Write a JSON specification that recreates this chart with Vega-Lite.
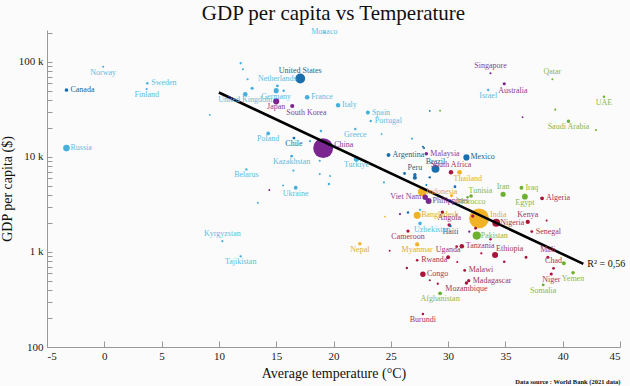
{
  "$schema": "https://vega.github.io/schema/vega-lite/v6.json",
  "width": 573,
  "height": 317,
  "autosize": "none",
  "padding": {"left": 47, "top": 30, "right": 10, "bottom": 39},
  "background": "#fbfbfb",
  "title": {"text": "GDP per capita vs Temperature", "font": "Liberation Serif", "fontSize": 21, "fontWeight": "normal", "color": "#111111", "anchor": "middle", "offset": 3},
  "config": {"view": {"stroke": null}, "font": "Liberation Serif"},
  "datasets": {
    "countries": [
      {"country": "Canada", "region": "AME", "temp": -3.3, "gdp": 50700, "pop": 38},
      {"country": "Russia", "region": "EUR", "temp": -3.3, "gdp": 12400, "pop": 145},
      {"country": "Norway", "region": "EUR", "temp": -0.1, "gdp": 89000, "pop": 5.4},
      {"country": "Sweden", "region": "EUR", "temp": 3.75, "gdp": 59700, "pop": 10.4},
      {"country": "Finland", "region": "EUR", "temp": 3.7, "gdp": 52000, "pop": 5.5},
      {"country": "Monaco", "region": "EUR", "temp": 19.2, "gdp": 205000, "pop": 0.04},
      {"country": "United States", "region": "AME", "temp": 17.1, "gdp": 67000, "pop": 332},
      {"country": "Netherlands", "region": "EUR", "temp": 15.1, "gdp": 56000, "pop": 17.5},
      {"country": "Germany", "region": "EUR", "temp": 15.0, "gdp": 49900, "pop": 83},
      {"country": "United Kingdom", "region": "EUR", "temp": 12.3, "gdp": 45700, "pop": 67},
      {"country": "Japan", "region": "EAP", "temp": 15.0, "gdp": 38500, "pop": 125},
      {"country": "South Korea", "region": "EAP", "temp": 16.4, "gdp": 34400, "pop": 52},
      {"country": "France", "region": "EUR", "temp": 17.7, "gdp": 42500, "pop": 68},
      {"country": "Italy", "region": "EUR", "temp": 20.4, "gdp": 35000, "pop": 59},
      {"country": "Spain", "region": "EUR", "temp": 23.0, "gdp": 29300, "pop": 47},
      {"country": "Portugal", "region": "EUR", "temp": 23.25, "gdp": 23900, "pop": 10},
      {"country": "Greece", "region": "EUR", "temp": 21.9, "gdp": 19700, "pop": 10.7},
      {"country": "Poland", "region": "EUR", "temp": 14.3, "gdp": 17700, "pop": 38},
      {"country": "Chile", "region": "AME", "temp": 16.55, "gdp": 15800, "pop": 19},
      {"country": "China", "region": "EAP", "temp": 19.1, "gdp": 12400, "pop": 1412},
      {"country": "Turkiye", "region": "EUR", "temp": 22.0, "gdp": 9500, "pop": 85},
      {"country": "Kazakhstan", "region": "EUR", "temp": 16.35, "gdp": 10200, "pop": 19},
      {"country": "Belarus", "region": "EUR", "temp": 12.4, "gdp": 7400, "pop": 9.3},
      {"country": "Ukraine", "region": "EUR", "temp": 16.7, "gdp": 4750, "pop": 43},
      {"country": "Kyrgyzstan", "region": "EUR", "temp": 10.3, "gdp": 1300, "pop": 6.7},
      {"country": "Tajikistan", "region": "EUR", "temp": 11.9, "gdp": 900, "pop": 9.8},
      {"country": "Argentina", "region": "AME", "temp": 24.8, "gdp": 10500, "pop": 45},
      {"country": "Malaysia", "region": "EAP", "temp": 28.1, "gdp": 10800, "pop": 33},
      {"country": "Mexico", "region": "AME", "temp": 31.6, "gdp": 9900, "pop": 127},
      {"country": "Brazil", "region": "AME", "temp": 28.9, "gdp": 7500, "pop": 214},
      {"country": "South Africa", "region": "SSA", "temp": 30.25, "gdp": 6900, "pop": 60},
      {"country": "Peru", "region": "AME", "temp": 27.1, "gdp": 6500, "pop": 33},
      {"country": "Thailand", "region": "SAS", "temp": 31.0, "gdp": 6900, "pop": 70},
      {"country": "Indonesia", "region": "SAS", "temp": 27.75, "gdp": 4300, "pop": 274},
      {"country": "Viet Nam", "region": "EAP", "temp": 28.0, "gdp": 3770, "pop": 98},
      {"country": "Philippines", "region": "EAP", "temp": 28.3, "gdp": 3440, "pop": 113},
      {"country": "Tunisia", "region": "MEN", "temp": 31.7, "gdp": 3770, "pop": 12},
      {"country": "Morocco", "region": "MEN", "temp": 32.0, "gdp": 3880, "pop": 37},
      {"country": "Bangladesh", "region": "SAS", "temp": 27.3, "gdp": 2430, "pop": 169},
      {"country": "Angola", "region": "SSA", "temp": 30.1, "gdp": 1920, "pop": 34},
      {"country": "Uzbekistan", "region": "EUR", "temp": 27.55, "gdp": 2000, "pop": 35},
      {"country": "Haiti", "region": "AME", "temp": 30.2, "gdp": 1880, "pop": 11.5},
      {"country": "Cameroon", "region": "SSA", "temp": 26.5, "gdp": 1660, "pop": 27},
      {"country": "Pakistan", "region": "MEN", "temp": 32.5, "gdp": 1490, "pop": 231},
      {"country": "Nigeria", "region": "SSA", "temp": 34.2, "gdp": 2030, "pop": 213},
      {"country": "India", "region": "SAS", "temp": 32.7, "gdp": 2260, "pop": 1408},
      {"country": "Iran", "region": "MEN", "temp": 34.8, "gdp": 4050, "pop": 85},
      {"country": "Iraq", "region": "MEN", "temp": 36.4, "gdp": 4750, "pop": 43},
      {"country": "Egypt", "region": "MEN", "temp": 36.7, "gdp": 3820, "pop": 109},
      {"country": "Algeria", "region": "SSA", "temp": 38.2, "gdp": 3670, "pop": 44},
      {"country": "Kenya", "region": "SSA", "temp": 36.95, "gdp": 2070, "pop": 54},
      {"country": "Senegal", "region": "SSA", "temp": 37.3, "gdp": 1640, "pop": 17},
      {"country": "Tanzania", "region": "SSA", "temp": 31.2, "gdp": 1150, "pop": 63},
      {"country": "Uganda", "region": "SSA", "temp": 30.0, "gdp": 880, "pop": 46},
      {"country": "Rwanda", "region": "SSA", "temp": 27.3, "gdp": 818, "pop": 13},
      {"country": "Ethiopia", "region": "SSA", "temp": 34.1, "gdp": 929, "pop": 120},
      {"country": "Congo", "region": "SSA", "temp": 27.8, "gdp": 582, "pop": 96},
      {"country": "Malawi", "region": "SSA", "temp": 31.45, "gdp": 640, "pop": 20},
      {"country": "Madagascar", "region": "SSA", "temp": 31.8, "gdp": 499, "pop": 29},
      {"country": "Mozambique", "region": "SSA", "temp": 31.6, "gdp": 472, "pop": 32},
      {"country": "Afghanistan", "region": "MEN", "temp": 29.3, "gdp": 367, "pop": 40},
      {"country": "Burundi", "region": "SSA", "temp": 27.8, "gdp": 222, "pop": 12},
      {"country": "Nepal", "region": "SAS", "temp": 22.3, "gdp": 1220, "pop": 30},
      {"country": "Myanmar", "region": "SAS", "temp": 27.3, "gdp": 1200, "pop": 54},
      {"country": "Mali", "region": "SSA", "temp": 38.7, "gdp": 880, "pop": 22},
      {"country": "Chad", "region": "SSA", "temp": 39.2, "gdp": 673, "pop": 17},
      {"country": "Niger", "region": "SSA", "temp": 39.0, "gdp": 587, "pop": 25},
      {"country": "Yemen", "region": "MEN", "temp": 40.9, "gdp": 605, "pop": 33},
      {"country": "Somalia", "region": "MEN", "temp": 38.3, "gdp": 450, "pop": 17},
      {"country": "Singapore", "region": "EAP", "temp": 33.7, "gdp": 76000, "pop": 5.5},
      {"country": "Australia", "region": "EAP", "temp": 34.9, "gdp": 59000, "pop": 26},
      {"country": "Israel", "region": "EUR", "temp": 33.5, "gdp": 50700, "pop": 9.4},
      {"country": "Qatar", "region": "MEN", "temp": 39.1, "gdp": 65800, "pop": 2.7},
      {"country": "UAE", "region": "MEN", "temp": 43.6, "gdp": 43000, "pop": 9.4},
      {"country": "Saudi Arabia", "region": "MEN", "temp": 40.5, "gdp": 23800, "pop": 35},
      {"country": "Switzerland", "region": "EUR", "temp": 11.9, "gdp": 96900, "pop": 8.7},
      {"country": "Ireland", "region": "EUR", "temp": 12.1, "gdp": 83800, "pop": 5},
      {"country": "Denmark", "region": "EUR", "temp": 12.5, "gdp": 65800, "pop": 5.9},
      {"country": "Austria", "region": "EUR", "temp": 12.9, "gdp": 52900, "pop": 25},
      {"country": "Belgium", "region": "EUR", "temp": 15.65, "gdp": 49900, "pop": 11.6},
      {"country": "Estonia", "region": "EUR", "temp": 9.2, "gdp": 27700, "pop": 1.3},
      {"country": "Hungary", "region": "EUR", "temp": 17.95, "gdp": 14700, "pop": 9.7},
      {"country": "Czechia", "region": "EUR", "temp": 18.9, "gdp": 18800, "pop": 10.5},
      {"country": "Cyprus", "region": "EUR", "temp": 24.2, "gdp": 17500, "pop": 1.2},
      {"country": "Croatia", "region": "EUR", "temp": 26.85, "gdp": 15600, "pop": 4},
      {"country": "Panama", "region": "AME", "temp": 27.9, "gdp": 12400, "pop": 4.4},
      {"country": "Bahamas", "region": "AME", "temp": 28.4, "gdp": 30500, "pop": 0.4},
      {"country": "Bahrain", "region": "MEN", "temp": 29.3, "gdp": 30700, "pop": 1.5},
      {"country": "Mongolia", "region": "EAP", "temp": 14.4, "gdp": 4500, "pop": 3.3},
      {"country": "Armenia", "region": "EUR", "temp": 15.6, "gdp": 5000, "pop": 3},
      {"country": "Serbia", "region": "EUR", "temp": 16.5, "gdp": 7200, "pop": 6.8},
      {"country": "Bulgaria", "region": "EUR", "temp": 18.8, "gdp": 9100, "pop": 6.9},
      {"country": "Georgia", "region": "EUR", "temp": 18.8, "gdp": 6600, "pop": 3.7},
      {"country": "Albania", "region": "EUR", "temp": 19.7, "gdp": 6300, "pop": 2.8},
      {"country": "Azerbaijan", "region": "EUR", "temp": 19.6, "gdp": 5200, "pop": 10},
      {"country": "Lebanon", "region": "EUR", "temp": 24.4, "gdp": 5400, "pop": 5.6},
      {"country": "Moldova", "region": "EUR", "temp": 13.4, "gdp": 3300, "pop": 2.6},
      {"country": "Ecuador", "region": "AME", "temp": 26.2, "gdp": 6700, "pop": 18},
      {"country": "Colombia", "region": "AME", "temp": 27.1, "gdp": 6050, "pop": 51},
      {"country": "Dominican Republic", "region": "AME", "temp": 28.4, "gdp": 6100, "pop": 11},
      {"country": "Jamaica", "region": "AME", "temp": 28.1, "gdp": 5070, "pop": 2.8},
      {"country": "Guatemala", "region": "AME", "temp": 30.6, "gdp": 4860, "pop": 17},
      {"country": "Sri Lanka", "region": "SAS", "temp": 30.3, "gdp": 3920, "pop": 22},
      {"country": "Costa Rica", "region": "AME", "temp": 27.8, "gdp": 12800, "pop": 5.2},
      {"country": "Laos", "region": "EAP", "temp": 25.8, "gdp": 2510, "pop": 7.4},
      {"country": "Bolivia", "region": "AME", "temp": 26.5, "gdp": 2600, "pop": 12},
      {"country": "Turkmenistan", "region": "EUR", "temp": 27.55, "gdp": 2770, "pop": 6},
      {"country": "Ghana", "region": "SSA", "temp": 29.5, "gdp": 2620, "pop": 32},
      {"country": "Papua New Guinea", "region": "EAP", "temp": 31.85, "gdp": 1640, "pop": 9.9},
      {"country": "Bhutan", "region": "SAS", "temp": 24.5, "gdp": 2360, "pop": 0.8},
      {"country": "Cote d'Ivoire", "region": "SSA", "temp": 32.15, "gdp": 2390, "pop": 27},
      {"country": "Zambia", "region": "SSA", "temp": 32.4, "gdp": 1780, "pop": 19},
      {"country": "Benin", "region": "SSA", "temp": 33.7, "gdp": 1360, "pop": 13},
      {"country": "Zimbabwe", "region": "SSA", "temp": 30.75, "gdp": 1140, "pop": 16},
      {"country": "Togo", "region": "SSA", "temp": 32.9, "gdp": 968, "pop": 8.6},
      {"country": "Burkina Faso", "region": "SSA", "temp": 36.8, "gdp": 880, "pop": 22},
      {"country": "Guinea", "region": "SSA", "temp": 34.9, "gdp": 790, "pop": 13.5},
      {"country": "Mauritania", "region": "SSA", "temp": 38.6, "gdp": 2140, "pop": 4.6},
      {"country": "Lesotho", "region": "SSA", "temp": 24.9, "gdp": 1030, "pop": 2.3},
      {"country": "South Sudan", "region": "SSA", "temp": 26.4, "gdp": 680, "pop": 11},
      {"country": "Central African Republic", "region": "SSA", "temp": 28.4, "gdp": 504, "pop": 5},
      {"country": "Sierra Leone", "region": "SSA", "temp": 29.1, "gdp": 463, "pop": 8.4},
      {"country": "Liberia", "region": "SSA", "temp": 30.8, "gdp": 785, "pop": 5.2},
      {"country": "Sudan", "region": "MEN", "temp": 40.1, "gdp": 760, "pop": 45},
      {"country": "Kuwait", "region": "MEN", "temp": 39.35, "gdp": 31500, "pop": 4.3},
      {"country": "Oman", "region": "MEN", "temp": 42.9, "gdp": 19200, "pop": 4.5},
      {"country": "Brunei", "region": "EAP", "temp": 36.5, "gdp": 26200, "pop": 0.4}
    ],
    "fit": [
      {"temp": 10, "gdp": 47700, "label": ""},
      {"temp": 41.8, "gdp": 750, "label": "R² = 0,56"}
    ]
  },
  "layer": [
    {
      "data": {"name": "countries"},
      "mark": {"type": "circle", "opacity": 1},
      "encoding": {
        "x": {"field": "temp", "type": "quantitative", "scale": {"domain": [-5, 45], "nice": false, "zero": false},
          "axis": {"values": [-5, 0, 5, 10, 15, 20, 25, 30, 35, 40, 45], "title": "Average temperature (°C)", "grid": false,
            "domainColor": "#999999", "tickColor": "#999999", "tickSize": -6, "labelPadding": 9,
            "labelFont": "Liberation Serif", "labelFontSize": 11, "labelColor": "#222222", "labelExpr": "replace(datum.label, '\u2212', '-')",
            "titleFont": "Liberation Serif", "titleFontSize": 14, "titleFontWeight": "normal", "titleColor": "#111111", "titlePadding": 5}},
        "y": {"field": "gdp", "type": "quantitative", "title": "GDP per capita ($)", "scale": {"type": "log", "domain": [100, 217000], "nice": false},
          "axis": {"values": [100, 200, 300, 400, 500, 600, 700, 800, 900, 1000, 2000, 3000, 4000, 5000, 6000, 7000, 8000, 9000, 10000, 20000, 30000, 40000, 50000, 60000, 70000, 80000, 90000, 100000, 200000],
            "labelExpr": "datum.value == 100 ? '100' : (datum.value == 1000 ? '1 k' : (datum.value == 10000 ? '10 k' : (datum.value == 100000 ? '100 k' : '')))",
            "grid": false, "domainColor": "#999999", "tickColor": "#999999", "tickSize": -5, "labelPadding": 9,
            "labelFont": "Liberation Serif", "labelFontSize": 11, "labelColor": "#222222", "labelOverlap": false,
            "titleFont": "Liberation Serif", "titleFontSize": 14, "titleFontWeight": "normal", "titleColor": "#111111", "titlePadding": 4}},
        "size": {"field": "pop", "type": "quantitative", "scale": {"domain": [0, 1420], "range": [3, 400]}, "legend": null},
        "color": {"field": "region", "type": "nominal", "scale": {"domain": ["EUR", "AME", "EAP", "SAS", "MEN", "SSA"], "range": ["#45b0dc", "#1b6fae", "#7b2590", "#f2b226", "#6bb02e", "#a8143c"]}, "legend": null},
        "order": {"field": "pop", "type": "quantitative", "sort": "descending"}
      }
    },
    {
      "data": {"name": "fit"},
      "mark": {"type": "line", "color": "#000000", "strokeWidth": 2.6},
      "encoding": {
        "x": {"field": "temp", "type": "quantitative",
          "axis": {"orient": "bottom", "domain": false, "ticks": false, "labels": false, "grid": false, "title": "Data source : World Bank (2021 data)", "titleAnchor": "end",
            "titleFont": "Liberation Serif", "titleFontSize": 6.5, "titleFontWeight": "bold", "titleColor": "#111111", "titlePadding": 31}},
        "y": {"field": "gdp", "type": "quantitative", "title": "GDP per capita ($)", "scale": {"type": "log"}}
      }
    },
    {
      "data": {"name": "fit"},
      "transform": [{"filter": "datum.label != ''"}],
      "mark": {"type": "text", "align": "left", "baseline": "middle", "dx": 4, "fontSize": 10, "font": "Liberation Serif", "color": "#111111"},
      "encoding": {
        "x": {"field": "temp", "type": "quantitative", "axis": null},
        "y": {"field": "gdp", "type": "quantitative", "title": "GDP per capita ($)", "scale": {"type": "log"}},
        "text": {"field": "label"}
      }
    },
    {
      "data": {"name": "countries"},
      "transform": [{"filter": {"field": "country", "oneOf": ["Canada", "Russia", "Sweden", "France", "Italy", "Spain", "Portugal", "Argentina", "Malaysia", "Mexico", "Indonesia", "Philippines", "Bangladesh", "Pakistan", "Nigeria", "Iraq", "Algeria", "Senegal", "Tanzania", "Rwanda", "Congo", "Malawi", "Madagascar"]}}],
      "mark": {"type": "text", "align": "left", "baseline": "middle", "dx": 4, "fontSize": 8, "font": "Liberation Serif"},
      "encoding": {
        "x": {"field": "temp", "type": "quantitative", "axis": null},
        "y": {"field": "gdp", "type": "quantitative", "title": "GDP per capita ($)", "scale": {"type": "log"}},
        "text": {"field": "country"},
        "color": {"field": "region", "type": "nominal", "scale": {"domain": ["EUR", "AME", "EAP", "SAS", "MEN", "SSA"], "range": ["#5dbbe0", "#2a5f8c", "#8a3c99", "#e2ab3c", "#8ab74c", "#a53558"]}, "legend": null}
      }
    },
    {
      "data": {"name": "countries"},
      "transform": [{"filter": {"field": "country", "oneOf": ["Viet Nam"]}}],
      "mark": {"type": "text", "align": "right", "baseline": "middle", "dx": -4, "fontSize": 8, "font": "Liberation Serif"},
      "encoding": {
        "x": {"field": "temp", "type": "quantitative", "axis": null},
        "y": {"field": "gdp", "type": "quantitative", "title": "GDP per capita ($)", "scale": {"type": "log"}},
        "text": {"field": "country"},
        "color": {"field": "region", "type": "nominal", "scale": {"domain": ["EUR", "AME", "EAP", "SAS", "MEN", "SSA"], "range": ["#5dbbe0", "#2a5f8c", "#8a3c99", "#e2ab3c", "#8ab74c", "#a53558"]}, "legend": null}
      }
    },
    {
      "data": {"name": "countries"},
      "transform": [{"filter": {"field": "country", "oneOf": ["Norway", "Finland", "Germany", "United Kingdom", "Japan", "Greece", "Poland", "Chile", "Turkiye", "Kazakhstan", "Belarus", "Ukraine", "Tajikistan", "Morocco", "Haiti", "Cameroon", "Egypt", "Mozambique", "Afghanistan", "Burundi", "Nepal", "Myanmar", "Niger", "Yemen", "Somalia", "Israel", "UAE", "Saudi Arabia"]}}],
      "mark": {"type": "text", "align": "center", "baseline": "middle", "dy": 6, "fontSize": 8, "font": "Liberation Serif"},
      "encoding": {
        "x": {"field": "temp", "type": "quantitative", "axis": null},
        "y": {"field": "gdp", "type": "quantitative", "title": "GDP per capita ($)", "scale": {"type": "log"}},
        "text": {"field": "country"},
        "color": {"field": "region", "type": "nominal", "scale": {"domain": ["EUR", "AME", "EAP", "SAS", "MEN", "SSA"], "range": ["#5dbbe0", "#2a5f8c", "#8a3c99", "#e2ab3c", "#8ab74c", "#a53558"]}, "legend": null}
      }
    },
    {
      "data": {"name": "countries"},
      "transform": [{"filter": {"field": "country", "oneOf": ["United States", "Netherlands", "Kyrgyzstan", "Brazil", "South Africa", "Peru", "Angola", "Uganda", "Iran", "Kenya", "Mali", "Chad", "Singapore", "Qatar"]}}],
      "mark": {"type": "text", "align": "center", "baseline": "middle", "dy": -7, "fontSize": 8, "font": "Liberation Serif"},
      "encoding": {
        "x": {"field": "temp", "type": "quantitative", "axis": null},
        "y": {"field": "gdp", "type": "quantitative", "title": "GDP per capita ($)", "scale": {"type": "log"}},
        "text": {"field": "country"},
        "color": {"field": "region", "type": "nominal", "scale": {"domain": ["EUR", "AME", "EAP", "SAS", "MEN", "SSA"], "range": ["#5dbbe0", "#2a5f8c", "#8a3c99", "#e2ab3c", "#8ab74c", "#a53558"]}, "legend": null}
      }
    },
    {
      "data": {"name": "countries"},
      "transform": [{"filter": {"field": "country", "oneOf": ["South Korea", "Thailand", "Uzbekistan", "Australia"]}}],
      "mark": {"type": "text", "align": "left", "baseline": "middle", "dx": -6, "dy": 7, "fontSize": 8, "font": "Liberation Serif"},
      "encoding": {
        "x": {"field": "temp", "type": "quantitative", "axis": null},
        "y": {"field": "gdp", "type": "quantitative", "title": "GDP per capita ($)", "scale": {"type": "log"}},
        "text": {"field": "country"},
        "color": {"field": "region", "type": "nominal", "scale": {"domain": ["EUR", "AME", "EAP", "SAS", "MEN", "SSA"], "range": ["#5dbbe0", "#2a5f8c", "#8a3c99", "#e2ab3c", "#8ab74c", "#a53558"]}, "legend": null}
      }
    },
    {
      "data": {"name": "countries"},
      "transform": [{"filter": {"field": "country", "oneOf": ["Tunisia", "Ethiopia"]}}],
      "mark": {"type": "text", "align": "left", "baseline": "middle", "dx": 1, "dy": -6, "fontSize": 8, "font": "Liberation Serif"},
      "encoding": {
        "x": {"field": "temp", "type": "quantitative", "axis": null},
        "y": {"field": "gdp", "type": "quantitative", "title": "GDP per capita ($)", "scale": {"type": "log"}},
        "text": {"field": "country"},
        "color": {"field": "region", "type": "nominal", "scale": {"domain": ["EUR", "AME", "EAP", "SAS", "MEN", "SSA"], "range": ["#5dbbe0", "#2a5f8c", "#8a3c99", "#e2ab3c", "#8ab74c", "#a53558"]}, "legend": null}
      }
    },
    {
      "data": {"name": "countries"},
      "transform": [{"filter": {"field": "country", "oneOf": ["China", "India"]}}],
      "mark": {"type": "text", "align": "left", "baseline": "middle", "dx": 11, "dy": -3, "fontSize": 8, "font": "Liberation Serif"},
      "encoding": {
        "x": {"field": "temp", "type": "quantitative", "axis": null},
        "y": {"field": "gdp", "type": "quantitative", "title": "GDP per capita ($)", "scale": {"type": "log"}},
        "text": {"field": "country"},
        "color": {"field": "region", "type": "nominal", "scale": {"domain": ["EUR", "AME", "EAP", "SAS", "MEN", "SSA"], "range": ["#5dbbe0", "#2a5f8c", "#8a3c99", "#e2ab3c", "#8ab74c", "#a53558"]}, "legend": null}
      }
    },
    {
      "data": {"name": "countries"},
      "transform": [{"filter": {"field": "country", "oneOf": ["Monaco"]}}],
      "mark": {"type": "text", "align": "center", "baseline": "middle", "fontSize": 8, "font": "Liberation Serif"},
      "encoding": {
        "x": {"field": "temp", "type": "quantitative", "axis": null},
        "y": {"field": "gdp", "type": "quantitative", "title": "GDP per capita ($)", "scale": {"type": "log"}},
        "text": {"field": "country"},
        "color": {"field": "region", "type": "nominal", "scale": {"domain": ["EUR", "AME", "EAP", "SAS", "MEN", "SSA"], "range": ["#5dbbe0", "#2a5f8c", "#8a3c99", "#e2ab3c", "#8ab74c", "#a53558"]}, "legend": null}
      }
    }
  ],
  "resolve": {"axis": {"x": "independent"}, "scale": {"color": "independent"}}
}
